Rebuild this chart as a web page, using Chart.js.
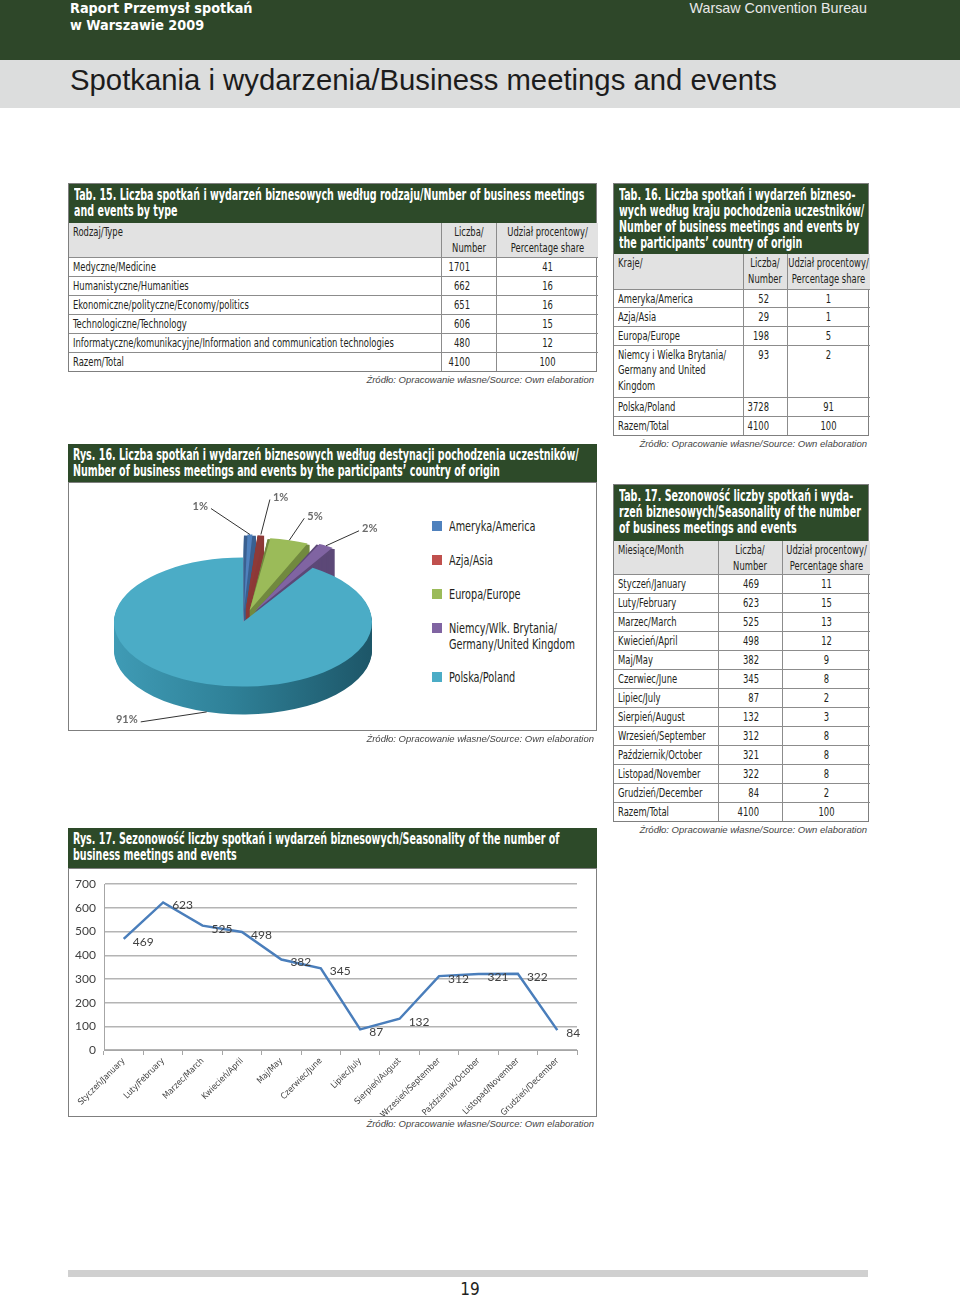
<!DOCTYPE html>
<html>
<head>
<meta charset="utf-8">
<script src="https://cdn.jsdelivr.net/npm/chart.js@4/dist/chart.umd.min.js"></script>
<style>
  body { margin:0; width:960px; height:1298px; position:relative; overflow:hidden; background:#fff;
         font-family:"DejaVu Sans Condensed",sans-serif; color:#231f20; }
  .abs { position:absolute; }
  .sq { display:inline-block; white-space:nowrap; transform:scaleX(0.72); transform-origin:left top; }
  #top { left:0; top:0; width:960px; height:60px; background:#2e4729; }
  #brand { left:70px; top:0px; color:#fff; font:bold 14.3px/17px "DejaVu Sans Condensed",sans-serif; }
  #wcb { right:93px; top:0px; color:#e8e8e8; font:14.3px/17px "Liberation Sans",sans-serif; }
  #band { left:0; top:60px; width:960px; height:48px; background:#dcdddd; }
  #title { left:70px; top:63px; font:29.3px/34px "Liberation Sans",sans-serif; color:#1c1c1c; }
  .box { position:absolute; border:1px solid #7f7f7f; background:#fff; box-sizing:border-box; }
  .tt, .hd { background:#2d4a29; color:#fff; font-weight:bold; font-size:15.5px; line-height:16px;
        padding:3px 4px 0 5px; box-sizing:border-box; }
  .hd { position:absolute; }
  .tt .sq, .hd .sq { transform:scaleX(0.685); display:block; }
  table { border-collapse:collapse; width:100%; table-layout:fixed; font-size:13px; }
  td { border:1px solid #8c8c8c; padding:0 4px; vertical-align:top; line-height:15.5px; padding-top:1px; overflow:visible; }
  tr td:first-child { border-left:none; }
  tr td:last-child { border-right:none; }
  tr:last-child td { border-bottom:none; }
  tr:first-child td { border-top:none; }
  tr.h td { background:#e2e2e2; }
  td.n .sq { display:block; width:200%; margin-left:-100%; text-align:right; transform-origin:right top; }
  td.c .sq { display:block; width:200%; margin-left:-50%; text-align:center; transform-origin:center top; }
  .src { position:absolute; font:italic 9.5px/12px "Liberation Sans",sans-serif; color:#444; white-space:nowrap; }
  .lg { position:absolute; left:432px; font-size:13.5px; line-height:16px; }
  .lg i { position:absolute; left:0; top:3px; width:10px; height:10px; }
  .lg span.sq { position:absolute; left:17px; top:0; transform:scaleX(0.8); }
  #foot { left:68px; top:1270px; width:800px; height:7px; background:#d0d0d0; }
  #pg { left:450px; top:1279px; width:40px; text-align:center; font-size:17px; line-height:20px; }
</style>
</head>
<body>
<div id="top" class="abs"></div>
<div id="brand" class="abs">Raport Przemysł spotkań<br>w Warszawie 2009</div>
<div id="wcb" class="abs">Warsaw Convention Bureau</div>
<div id="band" class="abs"></div>
<div id="title" class="abs">Spotkania i wydarzenia/Business meetings and events</div>

<div id="tab15"></div>
<div id="tab16"></div>
<div id="tab17"></div>

<div class="hd" style="left:68px;top:444px;width:529px;height:38px;"><span class="sq">Rys. 16. Liczba spotkań i wydarzeń biznesowych według destynacji pochodzenia uczestników/</span><span class="sq">Number of business meetings and events by the participants’ country of origin</span></div>
<div class="box" style="left:68px;top:482px;width:529px;height:249px;"></div>
<canvas id="pie" class="abs" width="354" height="354" style="left:66px;top:445px;"></canvas>
<div id="legend"></div>

<div class="hd" style="left:68px;top:828px;width:529px;height:40px;"><span class="sq">Rys. 17. Sezonowość liczby spotkań i wydarzeń biznesowych/Seasonality of the number of</span><span class="sq">business meetings and events</span></div>
<div class="box" style="left:68px;top:868px;width:529px;height:249px;"></div>
<canvas id="line" class="abs" width="526" height="247" style="left:69px;top:869px;"></canvas>

<div class="src" style="right:366px;top:374px;">Źródło: Opracowanie własne/Source: Own elaboration</div>
<div class="src" style="right:93px;top:438px;">Źródło: Opracowanie własne/Source: Own elaboration</div>
<div class="src" style="right:366px;top:733px;">Źródło: Opracowanie własne/Source: Own elaboration</div>
<div class="src" style="right:93px;top:824px;">Źródło: Opracowanie własne/Source: Own elaboration</div>
<div class="src" style="right:366px;top:1118px;">Źródło: Opracowanie własne/Source: Own elaboration</div>

<div id="foot" class="abs"></div>
<div id="pg" class="abs">19</div>

<script>
// Tab. 15 - by type
var types = ["Medyczne/Medicine", "Humanistyczne/Humanities", "Ekonomiczne/polityczne/Economy/politics",
  "Technologiczne/Technology", "Informatyczne/komunikacyjne/Information and communication technologies", "Razem/Total"];
var typeCounts = [1701, 662, 651, 606, 480, 4100];
var typeShares = [41, 16, 16, 15, 12, 100];

// Tab. 16 / Rys. 16 - by country of origin
var countryRows = ["Ameryka/America", "Azja/Asia", "Europa/Europe",
  "Niemcy i Wielka Brytania/<br>Germany and United<br>Kingdom", "Polska/Poland", "Razem/Total"];
var countryCounts = [52, 29, 198, 93, 3728, 4100];
var countryShares = [1, 1, 5, 2, 91, 100];
var countryLegend = ["Ameryka/America", "Azja/Asia", "Europa/Europe",
  "Niemcy/Wlk. Brytania/<br>Germany/United Kingdom", "Polska/Poland"];

// Tab. 17 / Rys. 17 - by month
var months = ["Styczeń/January", "Luty/February", "Marzec/March", "Kwiecień/April", "Maj/May", "Czerwiec/June",
  "Lipiec/July", "Sierpień/August", "Wrzesień/September", "Październik/October", "Listopad/November", "Grudzień/December"];
var monthCounts = [469, 623, 525, 498, 382, 345, 87, 132, 312, 321, 322, 84];
var monthShares = [11, 15, 13, 12, 9, 8, 2, 3, 8, 8, 8, 2];
var monthTotal = [4100, 100];

var pieColors = ["#4f81bd", "#c0504d", "#9bbb59", "#8064a2", "#4bacc6"];
var pieSides = ["#3a6090", "#8e3a38", "#71893f", "#5c4877", null];

function sq(t) { return '<span class="sq">' + t + '</span>'; }

function buildTable(id, cfg) {
  var h = '<div class="box" style="left:' + cfg.left + 'px;top:' + cfg.top + 'px;width:' + cfg.width + 'px;">';
  h += '<div class="tt" style="height:' + cfg.titleH + 'px">' + cfg.title.map(sq).join('') + '</div>';
  h += '<table><colgroup>';
  cfg.cols.forEach(function (w) { h += '<col style="width:' + w + 'px">'; });
  h += '</colgroup>';
  h += '<tr class="h" style="height:' + cfg.headH + 'px"><td>' + sq(cfg.head) + '</td><td class="c">' + sq('Liczba/<br>Number') +
    '</td><td class="c">' + sq('Udział procentowy/<br>Percentage share') + '</td></tr>';
  cfg.names.forEach(function (n, i) {
    var rh = cfg.rowH[i] || cfg.rowH[0];
    h += '<tr style="height:' + rh + 'px"><td>' + sq(n) + '</td><td class="n" style="padding-right:' + cfg.pad + 'px">' +
      sq(cfg.counts[i]) + '</td><td class="c">' + sq(cfg.shares[i]) + '</td></tr>';
  });
  h += '</table></div>';
  document.getElementById(id).innerHTML = h;
}

buildTable('tab15', {
  left: 68, top: 183, width: 529, titleH: 39, headH: 34, cols: [372, 55, 102], pad: 26, rowH: [19],
  title: ['Tab. 15. Liczba spotkań i wydarzeń biznesowych według rodzaju/Number of business meetings', 'and events by type'],
  head: 'Rodzaj/Type', names: types, counts: typeCounts, shares: typeShares
});
buildTable('tab16', {
  left: 613, top: 183, width: 256, titleH: 70, headH: 35, cols: [129, 44, 83], pad: 18,
  rowH: [18, 19, 19, 52, 19, 19],
  title: ['Tab. 16. Liczba spotkań i wydarzeń bizneso-', 'wych według kraju pochodzenia uczestników/',
    'Number of business meetings and events by', 'the participants’ country of origin'],
  head: 'Kraje/', names: countryRows, counts: countryCounts, shares: countryShares
});
buildTable('tab17', {
  left: 613, top: 484, width: 256, titleH: 56, headH: 33, cols: [104, 64, 88], pad: 23, rowH: [19],
  title: ['Tab. 17. Sezonowość liczby spotkań i wyda-', 'rzeń biznesowych/Seasonality of the number', 'of business meetings and events'],
  head: 'Miesiące/Month', names: months.concat(['Razem/Total']),
  counts: monthCounts.concat([monthTotal[0]]), shares: monthShares.concat([monthTotal[1]])
});

// legend for the pie
var legendTops = [518, 552, 586, 620, 669];
var lh = '';
countryLegend.forEach(function (t, i) {
  lh += '<div class="lg" style="top:' + legendTops[i] + 'px"><i style="background:' + pieColors[i] + '"></i>' + sq(t) + '</div>';
});
document.getElementById('legend').innerHTML = lh;

// pie drawn as a tilted disc with a side wall
var TILT = 0.5, DEPTH = 28;
var leader = [[-39, -26], [9, -35], [15, -22], [33, -15], [-66, 10]];

function arcGeom(a) {
  var off = (a.options.offset || 0) / 4;
  var mid = (a.startAngle + a.endAngle) / 2;
  var circ = a.endAngle - a.startAngle;
  var fix = 1 - Math.sin(Math.min(Math.PI, circ));
  return { x: a.x + Math.cos(mid) * off, y: a.y + Math.sin(mid) * off, r: a.outerRadius + off * fix, mid: mid };
}

var tiltPlugin = {
  id: 'tilt',
  beforeDatasetsDraw: function (chart) {
    var ctx = chart.ctx, arcs = chart.getDatasetMeta(0).data;
    var cx = arcs[0].x, cy = arcs[0].y, R = arcs[4].outerRadius;
    var grad = ctx.createLinearGradient(cx - R, 0, cx + R, 0);
    grad.addColorStop(0, '#3f9bb5');
    grad.addColorStop(0.45, '#2f8198');
    grad.addColorStop(1, '#1d5668');
    ctx.save();
    for (var d = DEPTH; d > 0; d--) {
      arcs.forEach(function (a, i) {
        var g = arcGeom(a);
        ctx.save();
        ctx.translate(cx, cy + d);
        ctx.scale(1, TILT);
        ctx.translate(-cx, -cy);
        ctx.beginPath();
        ctx.moveTo(g.x, g.y);
        ctx.arc(g.x, g.y, g.r, a.startAngle, a.endAngle);
        ctx.closePath();
        ctx.fillStyle = pieSides[i] || grad;
        ctx.fill();
        ctx.restore();
      });
    }
    ctx.translate(cx, cy);
    ctx.scale(1, TILT);
    ctx.translate(-cx, -cy);
  },
  afterDatasetsDraw: function (chart) {
    var ctx = chart.ctx, arcs = chart.getDatasetMeta(0).data;
    ctx.restore();
    var cy = arcs[0].y;
    ctx.save();
    ctx.strokeStyle = '#333';
    ctx.lineWidth = 1;
    ctx.fillStyle = '#6b6b6b';
    ctx.font = 'bold 11px Lato, sans-serif';
    ctx.textBaseline = 'middle';
    arcs.forEach(function (a, i) {
      var g = arcGeom(a);
      var ax = g.x + g.r * Math.cos(g.mid);
      var ay = cy + (g.y + g.r * Math.sin(g.mid) - cy) * TILT;
      if (Math.sin(g.mid) > 0.3) ay += DEPTH;
      var ex = ax + leader[i][0], ey = ay + leader[i][1];
      ctx.beginPath();
      ctx.moveTo(ax, ay);
      ctx.lineTo(ex, ey);
      ctx.stroke();
      ctx.textAlign = leader[i][0] < 0 ? 'right' : 'left';
      ctx.fillText(countryShares[i] + '%', ex + (leader[i][0] < 0 ? -3 : 3), ey - 2);
    });
    ctx.restore();
  }
};

new Chart(document.getElementById('pie'), {
  type: 'pie',
  data: {
    labels: countryLegend.map(function (s) { return s.replace('<br>', ' '); }),
    datasets: [{
      data: countryCounts.slice(0, 5),
      backgroundColor: pieColors,
      borderWidth: 0,
      offset: [96, 96, 96, 96, 0],
      clip: false
    }]
  },
  options: {
    responsive: false,
    animation: false,
    events: [],
    plugins: { legend: { display: false }, tooltip: { enabled: false } }
  },
  plugins: [tiltPlugin]
});

// value labels on the line
var valueLabels = {
  id: 'valueLabels',
  afterDatasetsDraw: function (chart) {
    var ctx = chart.ctx;
    var meta = chart.getDatasetMeta(0);
    ctx.save();
    ctx.font = '12px Lato, sans-serif';
    ctx.fillStyle = '#404040';
    ctx.textBaseline = 'middle';
    ctx.textAlign = 'left';
    meta.data.forEach(function (p, i) {
      ctx.fillText(String(monthCounts[i]), p.x + 9, p.y + 3);
    });
    ctx.restore();
  }
};

new Chart(document.getElementById('line'), {
  type: 'line',
  data: {
    labels: months,
    datasets: [{
      data: monthCounts,
      borderColor: '#4a7ebb',
      borderWidth: 2.5,
      pointRadius: 0,
      tension: 0,
      fill: false
    }]
  },
  options: {
    responsive: false,
    animation: false,
    events: [],
    layout: { padding: { top: 10, right: 18, left: 0, bottom: 0 } },
    plugins: { legend: { display: false }, tooltip: { enabled: false } },
    scales: {
      x: {
        offset: true,
        grid: { drawOnChartArea: false, offset: true, tickLength: 5, color: '#a6a6a6' },
        border: { color: '#a6a6a6' },
        ticks: {
          minRotation: 45, maxRotation: 45, autoSkip: false, padding: 1,
          color: '#404040', font: { family: '"DejaVu Sans Condensed",sans-serif', size: 8.6 }
        },
        afterFit: function (s) { s.height = 66; }
      },
      y: {
        min: 0, max: 700,
        ticks: { stepSize: 100, padding: 8, color: '#404040', font: { family: 'Lato, sans-serif', size: 12 } },
        grid: { color: '#b4b4b4', lineWidth: 1.5, drawTicks: false },
        border: { color: '#a6a6a6' },
        afterFit: function (s) { s.width = 35; }
      }
    }
  },
  plugins: [valueLabels]
});
</script>
</body>
</html>
